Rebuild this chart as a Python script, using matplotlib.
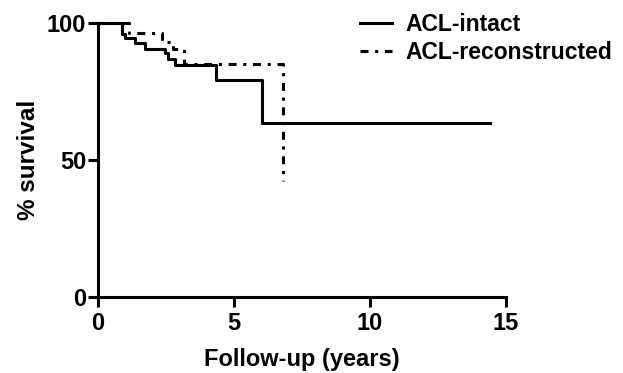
import matplotlib
matplotlib.use("Agg")
import matplotlib.pyplot as plt

plt.rcParams["font.family"] = ["Liberation Sans", "DejaVu Sans"]
plt.rcParams["font.weight"] = "bold"

# Kaplan-Meier step curves (years, % survival)
intact_t = [0.0, 0.87, 1.0, 1.36, 1.73, 2.46, 2.57, 2.83, 4.34, 6.02, 14.4]
intact_s = [100, 96.0, 94.4, 92.7, 90.5, 89.0, 86.7, 84.7, 79.2, 63.5, 63.5]

recon_t = [0.0, 1.15, 2.34, 2.75, 3.17, 6.8, 6.8]
recon_s = [100, 96.3, 93.0, 90.5, 85.2, 85.2, 42.3]

xticks = [0, 5, 10, 15]
yticks = [0, 50, 100]

fig = plt.figure(figsize=(6.23, 3.73), dpi=100)
ax = fig.add_axes([0.1573, 0.2038, 0.6549, 0.7345])

ax.step(intact_t, intact_s, where="post", color="black", lw=2.2,
        label="ACL-intact", clip_on=False, zorder=3)
ax.step(recon_t, recon_s, where="post", color="black", lw=2.2,
        linestyle=(0, (2.6, 2.2, 1.0, 2.2)), label="ACL-reconstructed",
        clip_on=False, zorder=3)

ax.set_xlim(0, 15)
ax.set_ylim(0, 100)
ax.set_xticks(xticks)
ax.set_yticks(yticks)
ax.spines["top"].set_visible(False)
ax.spines["right"].set_visible(False)
for s in ("left", "bottom"):
    ax.spines[s].set_linewidth(2.2)
ax.tick_params(width=2.2, length=7, direction="out", labelsize=17)
ax.tick_params(axis="x", pad=3.5)
ax.tick_params(axis="y", pad=1.5)
for lab in ax.get_xticklabels() + ax.get_yticklabels():
    lab.set_fontweight("bold")

ax.set_xlabel("Follow-up (years)", fontsize=17, fontweight="bold")
ax.set_ylabel("% survival", fontsize=17.5, fontweight="bold")
ax.xaxis.set_label_coords(0.5, -0.185)
ax.yaxis.set_label_coords(-0.142, 0.5)

leg = ax.legend(loc="upper left", bbox_to_anchor=(0.642, 1.038), frameon=False,
                fontsize=16.5, handlelength=1.4, handletextpad=0.6,
                labelspacing=0.22, borderpad=0, borderaxespad=0)
for t in leg.get_texts():
    t.set_fontweight("bold")

fig.savefig("out.png", dpi=100)
